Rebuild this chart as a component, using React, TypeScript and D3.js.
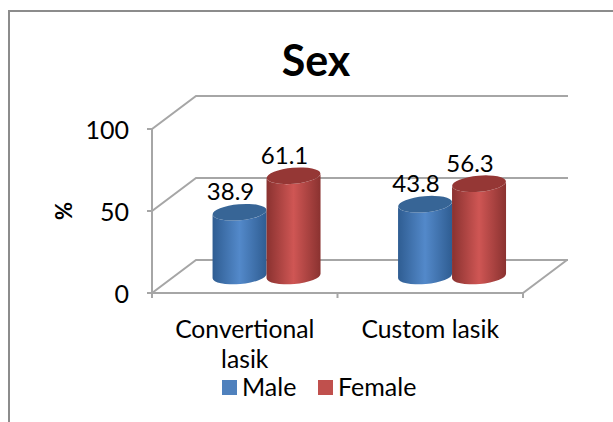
import React from "react";
import * as d3 from "d3";

const categories = ["Convertional lasik", "Custom lasik"];
const categoryLines = [["Convertional", "lasik"], ["Custom lasik"]];
const seriesNames = ["Male", "Female"];
const male = [38.9, 43.8];
const female = [61.1, 56.3];
const yTicks = [0, 50, 100];
const seriesColors = ["#4f81bd", "#c0504d"];
const seriesTop = ["#376596", "#953735"];
const seriesEdge = ["#2f5d92", "#8a3230"];
const seriesMid = ["#5389ca", "#cf5654"];

const FONT = "Lato, 'Open Sans', sans-serif";
const GRID = "#a6a6a6";

export default function App() {
  const y = d3.scaleLinear().domain([0, 100]).range([293, 129]);
  const x = d3.scaleBand<string>().domain(categories).range([152, 523]);
  const dx = 44;
  const dy = -33;
  const series = [male, female];
  const rad = 27;
  const ry = 8;
  const baseLift = 17;

  return (
    <svg width={613} height={422} style={{ position: "absolute", left: 0, top: 0, background: "#fff" }} fontFamily={FONT}>
      <defs>
        {seriesNames.map((s, i) => (
          <linearGradient id={`g${i}`} key={s} x1="0" x2="1" y1="0" y2="0">
            <stop offset="0" stopColor={seriesEdge[i]} />
            <stop offset="0.5" stopColor={seriesMid[i]} />
            <stop offset="1" stopColor={seriesEdge[i]} />
          </linearGradient>
        ))}
      </defs>
      <path d="M9 422V11H613" fill="none" stroke="#8c8c8c" strokeWidth={2} />
      <text x={316} y={76} textAnchor="middle" fontSize={43} fontWeight={700} fill="#000">Sex</text>

      {yTicks.map((t) => (
        <g key={t}>
          <path d={`M147 ${y(t)}H152L${152 + dx} ${y(t) + dy}H568`} fill="none" stroke={GRID} strokeWidth={2} />
          <text x={129} y={y(t) + 10} textAnchor="end" fontSize={25} fill="#000">{t}</text>
        </g>
      ))}
      <path d={`M152 ${y(100)}V298`} stroke={GRID} strokeWidth={2} fill="none" />
      <path d={`M152 ${y(0)}H523L${523 + dx} ${y(0) + dy}`} stroke={GRID} strokeWidth={2} fill="none" />
      {[...categories.map((c) => x(c) as number), 523].map((p) => (
        <path key={p} d={`M${p} ${y(0)}v5`} stroke={GRID} strokeWidth={2} />
      ))}
      <text transform="translate(72 211) rotate(-90)" textAnchor="middle" fontSize={22} fontWeight={700} fill="#000">%</text>

      {categories.map((c, ci) => (
        <g key={c}>
          {series.map((vals, si) => {
            const v = vals[ci];
            const cx = (x(c) as number) + x.bandwidth() * (si === 0 ? 0.472 : 0.763);
            const base = y(0) - baseLift;
            const top = base - (y(0) - y(v));
            const rot = -5;
            const tilt = rad * Math.tan((rot * Math.PI) / 180);
            const side = `M${cx - rad} ${top - tilt}L${cx - rad} ${base - tilt}A${rad} ${ry} ${rot} 0 0 ${cx + rad} ${base + tilt}L${cx + rad} ${top + tilt}A${rad} ${ry} ${rot} 0 1 ${cx - rad} ${top - tilt}Z`;
            return (
              <g key={si}>
                <path d={side} fill={`url(#g${si})`} />
                <ellipse cx={cx} cy={top} rx={rad} ry={ry} transform={`rotate(${rot} ${cx} ${top})`} fill={seriesTop[si]} />
                <text x={cx - 9} y={top - 12} textAnchor="middle" fontSize={24} fill="#000">{v}</text>
              </g>
            );
          })}
          {categoryLines[ci].map((line, li) => (
            <text key={line} x={(x(c) as number) + x.bandwidth() / 2} y={338 + li * 30} textAnchor="middle" fontSize={24.7} fill="#000">{line}</text>
          ))}
        </g>
      ))}

      {seriesNames.map((s, i) => {
        const lx = [222, 318][i];
        return (
          <g key={s}>
            <rect x={lx} y={380} width={15} height={15} fill={seriesColors[i]} />
            <text x={lx + 20} y={396} fontSize={25} fill="#000">{s}</text>
          </g>
        );
      })}
    </svg>
  );
}
